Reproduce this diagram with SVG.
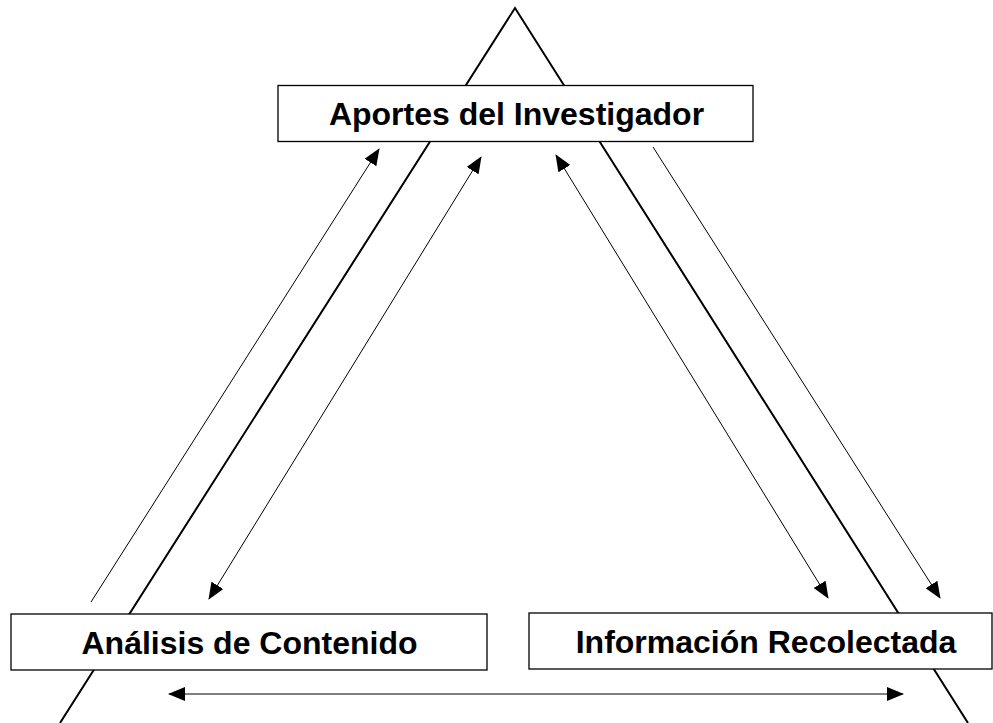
<svg xmlns="http://www.w3.org/2000/svg" width="993" height="723" viewBox="0 0 993 723">
<style>
.tri{fill:none;stroke:#000;stroke-width:2}
.box{fill:#fff;stroke:#000;stroke-width:1.3}
.lbl{font-family:"Liberation Sans",Arial,sans-serif;font-weight:bold;font-size:32px;fill:#000;text-anchor:middle}
.arr{fill:none;stroke:#000;stroke-width:1}
</style>
<defs>
<marker id="ah" markerUnits="userSpaceOnUse" markerWidth="17" markerHeight="14" refX="16" refY="7" orient="auto-start-reverse" viewBox="0 0 17 14">
<path d="M0,0 L17,7 L0,14 Z" fill="#000"/>
</marker>
</defs>
<g id="triangle">
<path class="tri" d="M60,723 L515,8 L968,723"/>
</g>
<g id="connectors">
<line class="arr" x1="91" y1="602" x2="379" y2="149" marker-end="url(#ah)"/>
<line class="arr" x1="209" y1="599" x2="481" y2="157" marker-start="url(#ah)" marker-end="url(#ah)"/>
<line class="arr" x1="556" y1="155" x2="828" y2="598" marker-start="url(#ah)" marker-end="url(#ah)"/>
<line class="arr" x1="653" y1="147" x2="940" y2="598" marker-end="url(#ah)"/>
<line class="arr" x1="169" y1="694" x2="903" y2="694" marker-start="url(#ah)" marker-end="url(#ah)"/>
</g>
<g id="node-aportes">
<rect class="box" x="278" y="85.5" width="475" height="56"/>
<text class="lbl" x="516.5" y="125">Aportes del Investigador</text>
</g>
<g id="node-analisis">
<rect class="box" x="11" y="614" width="476" height="56"/>
<text class="lbl" x="249.5" y="654">Análisis de Contenido</text>
</g>
<g id="node-informacion">
<rect class="box" x="529" y="613" width="463" height="56"/>
<text class="lbl" x="766" y="653">Información Recolectada</text>
</g>
</svg>
